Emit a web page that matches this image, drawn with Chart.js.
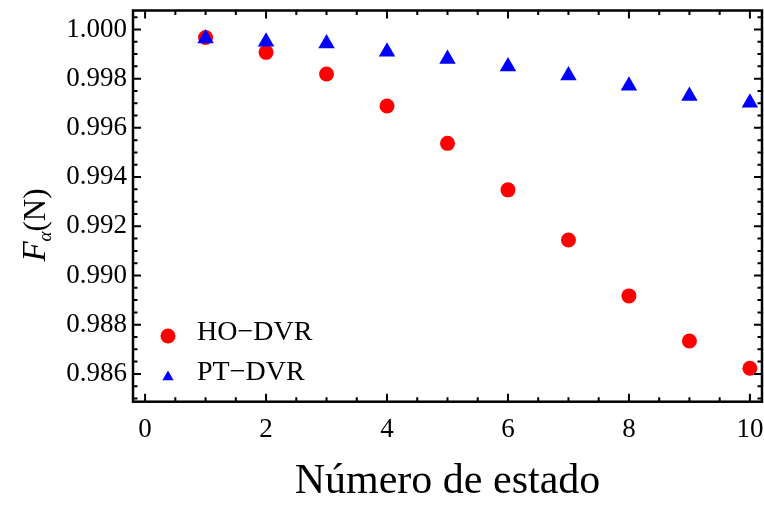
<!DOCTYPE html>
<html>
<head>
<meta charset="utf-8">
<script src="https://cdn.jsdelivr.net/npm/chart.js@4.4.1/dist/chart.umd.min.js"></script>
<style>
  html, body { margin: 0; padding: 0; background: #fff; }
  canvas { display: block; }
</style>
</head>
<body>
<canvas id="grafica" width="764" height="507"></canvas>
<script>
// Numero de estado (eje x)
const estados = [1, 2, 3, 4, 5, 6, 7, 8, 9, 10];

// Fidelidad para cada metodo
const hoDvr = [0.99967, 0.99907, 0.99819, 0.99689, 0.99537, 0.99348, 0.99144, 0.98917, 0.98734, 0.98623];
const ptDvr = [0.99963, 0.99950, 0.99943, 0.99909, 0.99880, 0.99849, 0.99813, 0.99771, 0.99730, 0.99702];

// Marcas de los ejes
const xTicks = [0, 2, 4, 6, 8, 10];
const yTicks = [0.986, 0.988, 0.990, 0.992, 0.994, 0.996, 0.998, 1.000];

const serif = "'Liberation Serif', 'Times New Roman', serif";

// Marco con marcas hacia adentro en los cuatro lados (mayores y menores)
const marcoPlugin = {
  id: 'marco',
  afterDatasetsDraw(chart) {
    const { ctx, chartArea: a, scales } = chart;
    const sx = scales.x, sy = scales.y;
    ctx.save();
    ctx.strokeStyle = '#000';
    ctx.lineWidth = 2;
    ctx.lineCap = 'butt';

    const mayor = 8, menor = 4.5;
    // eje x: menores cada 0.5
    for (let v = 0; v <= sx.max + 1e-9; v += 0.5) {
      const px = sx.getPixelForValue(v);
      const len = (Math.abs(v % 2) < 1e-9) ? mayor : menor;
      ctx.beginPath();
      ctx.moveTo(px, a.bottom); ctx.lineTo(px, a.bottom - len);
      ctx.moveTo(px, a.top); ctx.lineTo(px, a.top + len);
      ctx.stroke();
    }
    // eje y: menores cada 0.0005
    for (let k = 0; ; k++) {
      const v = 0.985 + k * 0.0005;
      if (v > sy.max) break;
      if (v < sy.min) continue;
      const py = sy.getPixelForValue(v);
      const len = (k % 4 === 2) ? mayor : menor;
      ctx.beginPath();
      ctx.moveTo(a.left, py); ctx.lineTo(a.left + len, py);
      ctx.moveTo(a.right, py); ctx.lineTo(a.right - len, py);
      ctx.stroke();
    }

    ctx.lineWidth = 2.5;
    ctx.strokeRect(a.left, a.top, a.right - a.left, a.bottom - a.top);
    ctx.restore();
  },
  afterDraw(chart) {
    const { ctx, chartArea: a } = chart;
    ctx.save();

    // leyenda dentro del area del grafico
    const filas = [
      { ds: chart.data.datasets[0], x: a.left + 35, y: 336, r: 7.5, base: 340 },
      { ds: chart.data.datasets[1], x: a.left + 35, y: 377, r: 6.5, base: 380 }
    ];
    filas.forEach(f => {
      ctx.fillStyle = f.ds.backgroundColor;
      ctx.beginPath();
      if (f.ds.pointStyle === 'triangle') {
        ctx.moveTo(f.x, f.y - f.r);
        ctx.lineTo(f.x + f.r * Math.sqrt(3) / 2, f.y + f.r / 2);
        ctx.lineTo(f.x - f.r * Math.sqrt(3) / 2, f.y + f.r / 2);
        ctx.closePath();
      } else {
        ctx.arc(f.x, f.y, f.r, 0, Math.PI * 2);
      }
      ctx.fill();
      ctx.fillStyle = '#000';
      ctx.font = '28px ' + serif;
      ctx.textAlign = 'left';
      ctx.textBaseline = 'alphabetic';
      ctx.fillText(f.ds.label, a.left + 64, f.base);
    });

    // titulo del eje y: F_alpha(N)
    const size = 31;
    const partes = [
      { t: 'F', font: 'italic ' + (size + 2) + 'px ' + serif, dy: 0 },
      { t: 'α', font: 'italic ' + Math.round(size * 0.62) + 'px ' + serif, dy: size * 0.2 },
      { t: '(N)', font: size + 'px ' + serif, dy: 0 }
    ];
    let total = 0;
    partes.forEach(p => { ctx.font = p.font; p.w = ctx.measureText(p.t).width; total += p.w; });
    ctx.translate(45, 225);
    ctx.rotate(-Math.PI / 2);
    ctx.fillStyle = '#000';
    ctx.textAlign = 'left';
    ctx.textBaseline = 'alphabetic';
    let cx = -total / 2;
    partes.forEach(p => {
      ctx.font = p.font;
      ctx.fillText(p.t, cx, p.dy);
      cx += p.w;
    });
    ctx.restore();
  }
};

const ctx = document.getElementById('grafica').getContext('2d');

new Chart(ctx, {
  type: 'scatter',
  data: {
    datasets: [
      {
        label: 'HO−DVR',
        data: estados.map((e, i) => ({ x: e, y: hoDvr[i] })),
        pointStyle: 'circle',
        pointRadius: 7.5,
        backgroundColor: '#ff0000',
        borderWidth: 0,
        order: 1
      },
      {
        label: 'PT−DVR',
        data: estados.map((e, i) => ({ x: e, y: ptDvr[i] })),
        pointStyle: 'triangle',
        pointRadius: 9.5,
        backgroundColor: '#0000ff',
        borderWidth: 0,
        order: 0
      }
    ]
  },
  options: {
    responsive: false,
    animation: false,
    devicePixelRatio: 1,
    // sin autoPadding: el radio de los puntos no debe encoger el area
    layout: { autoPadding: false, padding: { top: 10.5, right: 2, left: 0, bottom: 0 } },
    plugins: {
      legend: { display: false },
      tooltip: { enabled: false }
    },
    scales: {
      x: {
        type: 'linear',
        min: -0.2,
        max: 10.2,
        grid: { display: false, drawTicks: false },
        border: { display: false },
        afterBuildTicks: s => { s.ticks = xTicks.map(v => ({ value: v })); },
        afterFit: s => {
          s.height = 105.3;
          s.paddingLeft = 0;
          s.paddingRight = 0;
        },
        ticks: {
          autoSkip: false,
          maxRotation: 0,
          padding: 12,
          color: '#000',
          font: { family: serif, size: 27 },
          callback: v => String(v)
        },
        title: {
          display: true,
          text: 'Número de estado',
          color: '#000',
          font: { family: serif, size: 42 },
          padding: { top: 0, bottom: 0 }
        }
      },
      y: {
        type: 'linear',
        min: 0.98487,
        max: 1.00077,
        grid: { display: false, drawTicks: false },
        border: { display: false },
        afterBuildTicks: s => { s.ticks = yTicks.map(v => ({ value: v })); },
        afterFit: s => {
          s.width = 133;
          s.paddingTop = 0;
          s.paddingBottom = 0;
        },
        ticks: {
          autoSkip: false,
          padding: 6,
          color: '#000',
          font: { family: serif, size: 27 },
          callback: v => v.toFixed(3)
        }
      }
    }
  },
  plugins: [marcoPlugin]
});
</script>
</body>
</html>
